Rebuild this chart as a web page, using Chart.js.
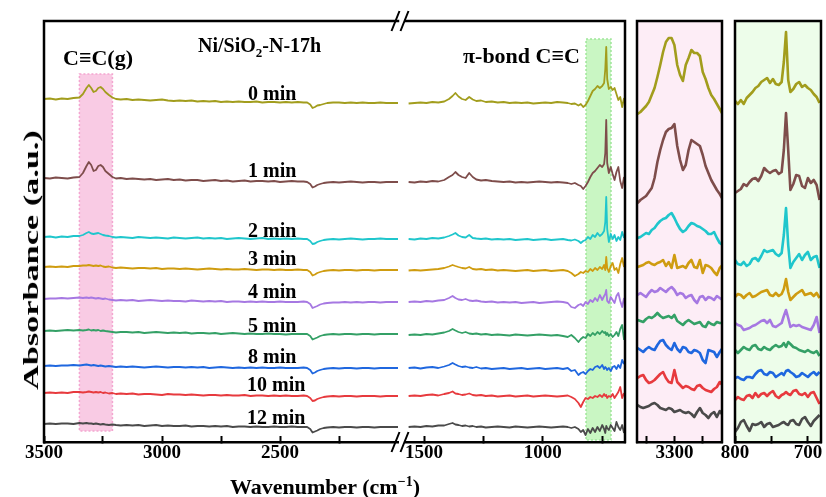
<!DOCTYPE html>
<html>
<head>
<meta charset="utf-8">
<script src="https://cdn.jsdelivr.net/npm/chart.js"></script>
<style>
  body { margin: 0; background: #fff; }
  #wrap { position: relative; width: 826px; height: 497px; overflow: hidden;
          font-family: "Liberation Serif", "Times New Roman", "DejaVu Serif", serif; font-weight: bold; color: #000; }
  canvas { position: absolute; top: 0; }
  .t { position: absolute; white-space: nowrap; font-size: 20px; line-height: 20px; }
  .big { font-size: 22px; line-height: 22px; }
</style>
</head>
<body>
<div id="wrap">
  <canvas id="cHigh" width="400" height="497" style="left:0"></canvas>
  <canvas id="cLow" width="250" height="497" style="left:380px"></canvas>
  <canvas id="cCH" width="100" height="497" style="left:630px"></canvas>
  <canvas id="cPi" width="140" height="497" style="left:705px"></canvas>

  <div class="t" style="left:198px;top:35px">Ni/SiO<span style="position:relative;top:5px;font-size:13px">2</span>-N-17h</div>
  <div class="t big" style="left:63px;top:47px">C≡C(g)</div>
  <div class="t big" style="left:463px;top:45px">π-bond C≡C</div>

  <div class="t" style="left:248px;top:83px">0 min</div>
  <div class="t" style="left:248px;top:160px">1 min</div>
  <div class="t" style="left:248px;top:220px">2 min</div>
  <div class="t" style="left:248px;top:248px">3 min</div>
  <div class="t" style="left:248px;top:281px">4 min</div>
  <div class="t" style="left:248px;top:315px">5 min</div>
  <div class="t" style="left:248px;top:346px">8 min</div>
  <div class="t" style="left:247px;top:374px">10 min</div>
  <div class="t" style="left:247px;top:407px">12 min</div>

  <div class="t big" style="left:325px;top:476px;transform:translateX(-50%)">Wavenumber (cm<span style="position:relative;top:-8px;font-size:14px">−1</span>)</div>
  <div id="ytitle" class="t big" style="left:31px;top:260px">Absorbance (a.u.)</div>
</div>

<script>
// time on stream for each trace, top to bottom
var times = ['0 min', '1 min', '2 min', '3 min', '4 min', '5 min', '8 min', '10 min', '12 min'];
var colors = ['#a29d1d', '#7e4d4b', '#1fc6cc', '#cf9c10', '#a678e2', '#34a066', '#1f67df', '#e73a3e', '#4a4a4a'];
// vertical stacking offset of each trace in the main panel
var offsets = [343, 264, 205, 175, 143, 111, 76, 49, 18];

// wavenumbers (cm-1) sampled in the 3500-2000 window
var wnHigh = [3500,3475,3450,3425,3400,3375,3350,3335,3320,3310,3300,3290,3280,3270,3260,3250,3240,3225,3210,3195,
  3175,3150,3125,3100,3075,3050,3025,3000,2975,2950,2925,2900,2875,2850,2825,2800,2775,2750,2725,2700,
  2675,2650,2625,2600,2575,2550,2525,2500,2475,2450,2425,2400,2385,2372,2362,2352,2342,2330,2315,2300,
  2275,2250,2225,2200,2175,2150,2125,2100,2075,2050,2025,2000];
// wavenumbers in the 1576-654 window
var wnLow = [1565,1540,1515,1490,1465,1440,1415,1395,1380,1368,1355,1340,1325,1310,1295,1280,1260,1240,1215,1190,
  1165,1140,1115,1090,1065,1040,1015,990,965,940,915,895,880,865,850,840,830,820,810,800,
  790,780,770,760,750,742,737,733,729,722,714,706,698,690,682,674,666,658];
// wavenumbers for the C-H stretch close-up
var wnCH = [3365,3360,3355,3350,3345,3340,3335,3330,3325,3320,3315,3310,3305,3300,3295,3290,3285,3280,3275,3270,
  3265,3260,3255,3250,3245,3240,3235,3230,3225,3220,3215];
// wavenumbers for the pi-bond close-up
var wnPi = [800,796,792,788,784,780,776,772,768,764,760,756,752,748,744,740,736,733,730,727,724,720,716,712,708,704,700,696,692,688,684];

// absorbance change relative to each trace offset, 3500-2000 cm-1
var absHigh = [
  [0,0.5,-0.5,0.5,0,1,1.5,5,11,14, 11,7,8,11,12,10,7,4,1.5,0, -0.5,0,-1,-0.5,-1,-1.5,-1,-0.5,-1.5,-2, -1.5,-2,-1.5,-2.5,-2,-2.5,-2,-3,-2.5,-3, -2.5,-3,-3,-2.5,-3.5,-3,-3,-3.5,-3,-3.5, -3,-3.5,-3.5,-5.5,-9,-8,-6.5,-6,-5,-4, -3.5,-3.5,-4,-3.5,-4,-3.5,-4,-4,-3.5,-4,-4,-4],
  [0,-0.5,0.5,0,-0.5,0.5,1,5,12,16, 13,7,8,12,13,11,7,4,1,-0.5, 0,-1,-0.5,-1,-1.5,-1,-2,-1.5,-1,-2, -1.5,-2.5,-2,-2,-3,-2.5,-2,-3,-2.5,-3.5, -3,-2.5,-3.5,-3,-3,-3.5,-3,-4,-3.5,-3, -3.5,-3.5,-4,-6,-9.5,-8.5,-7,-6,-5,-4.5, -4,-4.5,-4,-3.5,-4,-4.5,-4,-4,-4.5,-4,-4,-4],
  [0,0.5,-0.5,0.5,0,1,1,2,4,5, 3.5,3,3.5,4,3,2,1.5,1,0,-0.5, 0,-0.5,-1,0,-0.5,-1,-0.5,-1,-1.5,-0.5, -1,-1.5,-1,-0.5,-1.5,-1,-1.5,-1,-2,-1.5, -1,-1.5,-2,-1.5,-1,-2,-1.5,-2,-1.5,-2, -1.5,-2,-2,-4,-7,-6.5,-5,-4,-3,-2.5, -2,-2.5,-2,-1.5,-2,-2.5,-2,-2,-1.5,-2,-2,-2],
  [0,0.5,0,0.5,0,1,1,1.5,1.5,2, 1.5,1,1.5,1,1.5,0.5,0,0.5,-0.5,-1, -0.5,-1,-1.5,-1,-1,-1.5,-1,-2,-1.5,-1.5, -2,-1.5,-2,-2.5,-2,-1.5,-2,-2.5,-2,-2.5, -2.5,-2,-2.5,-3,-2.5,-2.5,-3,-2.5,-3,-3, -2.5,-3,-3,-5,-8.5,-7.5,-6,-5,-4,-3.5, -3,-3.5,-3,-3,-3.5,-3,-3,-3.5,-3,-3,-3,-3],
  [0,0.5,0.5,1,0.5,1,1.5,1,1.5,1, 1.5,1,0.5,1,0.5,0,0.5,-0.5,-1,-1.5, -1,-1.5,-1,-2,-1.5,-1,-1.5,-2,-1.5,-2, -2,-2.5,-1.5,-2,-2.5,-2,-2.5,-2,-3,-2.5, -2.5,-3,-2.5,-3,-2.5,-3,-3,-2.5,-3,-3, -3,-2.5,-3,-5,-9,-8,-7,-5.5,-4.5,-4, -3.5,-3.5,-3,-3.5,-3,-3.5,-3,-3,-3.5,-3,-3,-3],
  [0,0.5,0,0.5,1,0.5,1,0.5,1,1.5, 0.5,1,0.5,1,0,0.5,0,-0.5,-1,-1.5, -1,-1,-1.5,-1,-2,-1.5,-1,-1.5,-2,-1.5, -2,-1.5,-2.5,-2,-2,-2.5,-2,-3,-2.5,-2, -2.5,-3,-2.5,-3,-3,-2.5,-3,-3,-3.5,-3, -3,-3,-3,-5,-8.5,-7.5,-6.5,-5,-4,-3.5, -3,-3.5,-3,-3,-3.5,-3,-3,-3.5,-3,-3,-3,-3],
  [0,0.5,0,0.5,0.5,1,0.5,1,1.5,1, 0.5,1,0.5,0,0.5,0,-0.5,0,-0.5,-1, -0.5,-1,-0.5,-1,-1.5,-1,-0.5,-1,-1.5,-1, -1,-1.5,-1,-1.5,-1,-2,-1.5,-1,-1.5,-2, -1.5,-2,-1.5,-2,-1.5,-2,-2,-1.5,-2,-2, -2,-1.5,-2,-4,-7.5,-6.5,-5,-4,-3,-2.5, -2,-2.5,-2,-2,-2.5,-2,-2,-2.5,-2,-2,-2,-2],
  [0,0.5,0,0.5,0,1,1,0.5,1,1.5, 1,0.5,1,0.5,1,0,0.5,-0.5,0,-1, -0.5,-1,-0.5,-1.5,-1,-1,-1.5,-2,-1,-1.5, -1.5,-2,-1.5,-2,-2.5,-2,-2,-2.5,-2,-2.5, -2.5,-2,-3,-2.5,-2.5,-3,-2.5,-3,-2.5,-3, -3,-2.5,-3,-5,-8,-7.5,-6,-5,-4,-3.5, -3,-3.5,-3,-3,-3.5,-3,-3,-3,-3.5,-3,-3,-3],
  [0,0.5,0,0.5,0.5,0,1,0.5,1,0.5, 0.5,0,0.5,0,-0.5,0,-0.5,-1,-0.5,-1, -1.5,-1,-1.5,-1,-2,-1.5,-1,-2,-1.5,-2, -2,-1.5,-2.5,-2,-2,-2.5,-2,-2.5,-2,-3, -2.5,-2.5,-3,-2.5,-3,-3,-2.5,-3,-3,-2.5, -3,-3,-3,-5,-8.5,-7.5,-6.5,-5,-4,-3.5, -3,-3.5,-3,-3,-3.5,-3,-3,-3.5,-3,-3,-3,-3]
];

// absorbance change relative to each trace offset, 1576-654 cm-1
var absLow = [
  [-4.5,-4,-3.5,-4,-3,-3.5,-2.5,0,3,6, 2.5,0,-1,2,-0.5,-2,-1.5,-3,-2.5,-3.5, -3,-4,-3.5,-4,-3.5,-4.5,-4,-3.5,-4,-3, -3.5,-4,-5,-4.5,-6.5,-5,-8,-6,-2,3, 8,10,13,11,13,16,30,52,20,10, 12,9,11,5,-1,2,-8,1],
  [-4,-4.5,-3.5,-4,-3,-3.5,-2,1,3,6, 3,1,0,5,1,-1.5,-2.5,-2,-3,-3.5, -4,-3.5,-4.5,-4,-4.5,-4,-3.5,-4,-4.5,-4, -4.5,-5,-6,-5,-7,-8,-11,-8,-4,1, 5,7,10,13,11,14,25,58,15,5, 11,4,-2,6,11,-3,-10,1],
  [-2,-2.5,-1.5,-2,-1,-1.5,-0.5,1,2.5,4, 1.5,0,-0.5,2,-1,-1.5,-2,-1.5,-2.5,-2, -2.5,-2,-3,-2.5,-2,-3,-2.5,-2,-3,-2.5, -2,-3,-3.5,-2.5,-4,-6,-4,-3,0,-2, 2,0,4,1,3,6,15,40,8,-5, 3,-2,2,-4,0,-3,5,-1],
  [-3.5,-3,-3.5,-3,-2.5,-2,-1,0.5,2,1, 0,-1,-1.5,0,-2,-2.5,-2,-3,-2.5,-3.5, -3,-3.5,-4,-3.5,-3,-4,-3.5,-3,-4,-3.5, -3,-4,-6,-9,-7,-5,-6,-4,-5,-2, -4,-1,-3,0,-2,2,-3,10,-1,-5, 1,4,-3,-1,-6,3,9,0],
  [-3,-2.5,-3,-2,-2.5,-1.5,-1,1,3,1, -0.5,-1,0,-1.5,-2,-1.5,-2.5,-3,-2.5,-3.5, -3,-3.5,-3,-4,-3.5,-3,-4,-3.5,-3,-2.5, -3,-4,-8,-9,-6,-5,-7,-3,-5,-1, -3,1,-2,4,-1,3,5,9,-2,-4, 2,-1,-4,3,6,-2,-8,1],
  [-4,-3.5,-4,-3,-3.5,-2.5,-1.5,0,2,0.5, -1,-2,-1,-2.5,-3,-2.5,-3.5,-3,-4,-3.5, -4,-4.5,-3.5,-4,-4.5,-4,-3.5,-4,-4.5,-4, -5,-6,-4,-7,-11,-8,-6,-7,-3,-5, -2,-4,-1,-3,0,-2,-1,-4,-2,-5, -3,-6,-4,-1,-5,2,6,-9],
  [-2,-1.5,-2.5,-1.5,-1,-2,-0.5,1,3,1.5, 0,-1,-0.5,-1.5,-2,-1,-2.5,-2,-3,-2.5, -2,-3,-2.5,-2,-3,-2.5,-2,-3,-2.5,-2, -3,-2,-5,-4,-9,-7,-6,-8,-5,-3, -4,-1,0,-2,1,-3,-1,-2,-4,-2, -5,-1,0,-3,1,-2,6,2],
  [-3,-2.5,-3,-2,-1.5,-2.5,-1,0,1.5,-0.5, -1,-2,-1.5,-0.5,-2,-2.5,-2,-3,-2.5,-3.5, -3,-2.5,-3.5,-3,-2.5,-3.5,-3,-2.5,-3,-3.5, -3,-2.5,-4,-6,-10,-14,-9,-5,-6,-4, -5,-3,-4,-2,-4,-1,-3,-2,-5,-3, -4,-1,-5,-2,1,6,-5,0],
  [-3,-2.5,-3,-2,-2.5,-1.5,-1.5,0,1,-0.5, -1,-2,-1.5,-2.5,-2,-3,-2.5,-3.5,-3,-2.5, -3,-3.5,-2.5,-3,-3.5,-3,-2.5,-3,-3.5,-3, -2.5,-3,-4,-3,-5,-8,-6,-11,-5,-9, -4,-8,-3,-7,-1,-5,-9,-2,-4,-6, -1,-4,-7,2,-3,-6,-1,-9]
];

// close-up traces, already stacked
var absCH = [
  [328,330,333,336,340,347,354,365,377,390, 400,404,404,397,377,367,361,377,384,392, 389,389,386,370,363,354,347,343,338,333, 328],
  [239,242,244,246,250,254,264,280,292,302, 310,313,314,318,296,282,272,277,292,302, 300,298,296,287,276,269,262,257,252,248, 243],
  [204,205,207,209,208,212,214,218,221,223, 224,227,229,224,218,213,210,212,216,219, 218,216,215,213,211,208,208,210,204,199, 197],
  [175,176,177,179,180,178,177,179,180,182, 176,180,174,187,174,175,176,174,179,182, 175,174,182,169,177,176,174,170,167,174, 177],
  [147,149,147,145,149,152,150,151,154,152, 150,153,155,152,147,149,148,144,146,147, 142,139,145,146,142,145,144,142,146,144, 142],
  [122,121,120,123,125,124,126,129,126,124, 125,126,124,127,121,119,117,120,122,120, 118,119,120,116,115,120,118,117,120,119, 119],
  [94,92,90,93,95,93,92,97,101,102, 97,94,92,99,93,90,95,94,90,89, 92,91,89,82,79,92,91,90,85,90, 94],
  [64,66,67,62,59,60,62,65,68,70, 64,60,59,72,60,57,54,56,55,53, 52,56,57,54,52,51,50,53,55,60, 57],
  [37,35,34,35,36,38,39,37,34,33, 32,34,33,30,31,32,30,29,30,28, 25,30,34,29,27,24,28,30,25,31, 27]
];
var absPi = [
  [341,338,342,338,344,347,350,354,356,360, 362,364,359,363,358,357,360,380,410,362, 350,353,358,360,355,357,354,352,348,345, 339],
  [249,251,253,258,256,260,263,264,261,266, 274,271,269,271,272,268,270,292,329,292, 252,258,267,266,256,254,264,259,262,257, 242],
  [182,178,177,180,176,178,183,184,181,186, 192,190,191,192,188,186,189,207,234,197, 174,180,184,188,182,187,190,182,185,186, 174],
  [145,148,147,144,147,149,145,146,148,150, 151,152,147,146,149,146,148,153,163,150, 142,145,148,150,152,147,148,149,146,149, 144],
  [119,117,116,112,113,114,116,117,119,121, 122,119,122,116,115,117,119,126,132,124, 115,117,116,117,115,114,113,112,117,125, 109],
  [92,89,92,95,93,92,96,97,93,92, 95,93,92,95,97,95,96,99,95,100, 98,95,94,92,91,90,92,90,89,91, 86],
  [64,65,63,62,65,65,64,68,71,72, 68,67,70,69,65,67,69,67,71,72, 70,68,65,66,69,67,65,68,70,67, 70],
  [42,45,43,42,46,47,44,49,45,48, 49,46,49,51,46,44,47,48,50,48, 47,51,52,48,47,49,45,49,50,44, 38],
  [10,14,20,22,16,11,18,17,18,20, 15,18,19,15,16,17,19,20,18,17, 21,22,18,17,23,25,20,16,21,24, 27]
];

var tickHigh = [3500, 3250, 3000, 2750, 2500, 2250];
var tickLow = [1500, 1250, 1000, 750];
var tickCH = [3350, 3300, 3250];
var tickPi = [800, 750, 700];
var labelled = [3500, 3000, 2500, 1500, 1000, 3300, 800, 700];

Chart.defaults.font.family = '"Liberation Serif", "Times New Roman", serif';

function traces(wn, rows, base, width) {
  return rows.map(function (row, i) {
    return {
      label: times[i],
      data: row.map(function (v, j) { return { x: wn[j], y: (base ? base[i] : 0) + v }; }),
      borderColor: colors[i],
      borderWidth: width,
      pointRadius: 0,
      fill: false
    };
  });
}

// panel background and highlighted wavenumber bands
var shade = {
  id: 'shade',
  beforeDraw: function (chart, args, o) {
    var ctx = chart.ctx, a = chart.chartArea, x = chart.scales.x, y = chart.scales.y;
    ctx.save();
    if (o.fill) {
      ctx.fillStyle = o.fill;
      ctx.fillRect(a.left, a.top, a.width, a.height);
    }
    (o.bands || []).forEach(function (b) {
      var x0 = x.getPixelForValue(b.from), x1 = x.getPixelForValue(b.to);
      var y0 = y.getPixelForValue(b.top), y1 = y.getPixelForValue(b.bottom);
      var l = Math.min(x0, x1), w = Math.abs(x1 - x0);
      ctx.fillStyle = b.color;
      ctx.fillRect(l, y0, w, y1 - y0);
      ctx.setLineDash([2, 2]);
      ctx.lineWidth = 1.5;
      ctx.strokeStyle = b.edge;
      ctx.strokeRect(l, y0, w, y1 - y0);
    });
    ctx.restore();
  }
};

// frame sides (bottom comes from the x axis border) and axis break marks
var frame = {
  id: 'frame',
  afterDraw: function (chart, args, o) {
    var ctx = chart.ctx, a = chart.chartArea;
    ctx.save();
    ctx.strokeStyle = '#000';
    ctx.lineWidth = 2.5;
    ctx.lineCap = 'square';
    ctx.beginPath();
    if (o.top) { ctx.moveTo(a.left, a.top); ctx.lineTo(a.right, a.top); }
    if (o.left) { ctx.moveTo(a.left, a.top); ctx.lineTo(a.left, a.bottom); }
    if (o.right) { ctx.moveTo(a.right, a.top); ctx.lineTo(a.right, a.bottom); }
    ctx.stroke();
    if (o.brk) {
      ctx.lineWidth = 2;
      ctx.lineCap = 'butt';
      ctx.beginPath();
      [a.top, a.bottom].forEach(function (yy) {
        [a.left - 10.5, a.left - 1.5].forEach(function (cx) {
          ctx.moveTo(cx - 4, yy + 10);
          ctx.lineTo(cx + 4, yy - 10);
        });
      });
      ctx.stroke();
    }
    ctx.restore();
  }
};

function panel(id, cfg) {
  return new Chart(document.getElementById(id), {
    type: 'line',
    data: { datasets: cfg.datasets },
    options: {
      responsive: false,
      animation: false,
      layout: { padding: { left: cfg.padL, right: cfg.padR, top: 21, bottom: 0 } },
      elements: { line: { tension: 0, borderJoinStyle: 'round' } },
      plugins: {
        legend: { display: false },
        tooltip: { enabled: false },
        shade: { fill: cfg.fill, bands: cfg.bands },
        frame: cfg.frame
      },
      scales: {
        x: {
          type: 'linear',
          reverse: true,
          min: cfg.min,
          max: cfg.max,
          afterBuildTicks: function (s) { s.ticks = cfg.ticks.map(function (v) { return { value: v }; }); },
          afterFit: function (s) { s.height = 55; },
          ticks: {
            autoSkip: false,
            maxRotation: 0,
            padding: 6,
            color: '#000',
            font: { size: 19, weight: 'bold' },
            callback: function (v) { return labelled.indexOf(v) >= 0 ? String(v) : ''; }
          },
          grid: { display: true, drawOnChartArea: false, drawTicks: true, tickLength: -6, tickWidth: 2, tickColor: '#000' },
          border: { display: true, color: '#000', width: 2.5 }
        },
        y: { display: false, min: 0, max: 421 }
      }
    },
    plugins: [shade, frame]
  });
}

panel('cHigh', {
  datasets: traces(wnHigh, absHigh, offsets, 1.8),
  min: 2000, max: 3500, ticks: tickHigh, padL: 44, padR: 2,
  bands: [{ from: 3350, to: 3210, top: 368, bottom: 11, color: '#f9cbe4', edge: '#f3a6d0' }],
  frame: { top: true, left: true }
});

panel('cLow', {
  datasets: traces(wnLow, absLow, offsets, 1.8),
  min: 654, max: 1576, ticks: tickLow, padL: 26, padR: 5,
  bands: [{ from: 818, to: 713, top: 403, bottom: 2, color: '#c9f6c3', edge: '#9fe69a' }],
  frame: { top: true, right: true, brk: true }
});

panel('cCH', {
  datasets: traces(wnCH, absCH, null, 2.6),
  min: 3216, max: 3366, ticks: tickCH, padL: 7, padR: 8,
  fill: '#fdedf6',
  frame: { top: true, left: true, right: true }
});

panel('cPi', {
  datasets: traces(wnPi, absPi, null, 2.6),
  min: 682, max: 800, ticks: tickPi, padL: 30, padR: 24,
  fill: '#edfdea',
  frame: { top: true, left: true, right: true }
});

// stretch the rotated axis title along the panel height
var yt = document.getElementById('ytitle');
yt.style.transform = 'translate(-50%,-50%) rotate(-90deg) scale(' + (260 / yt.offsetWidth) + ',1)';
</script>
</body>
</html>
